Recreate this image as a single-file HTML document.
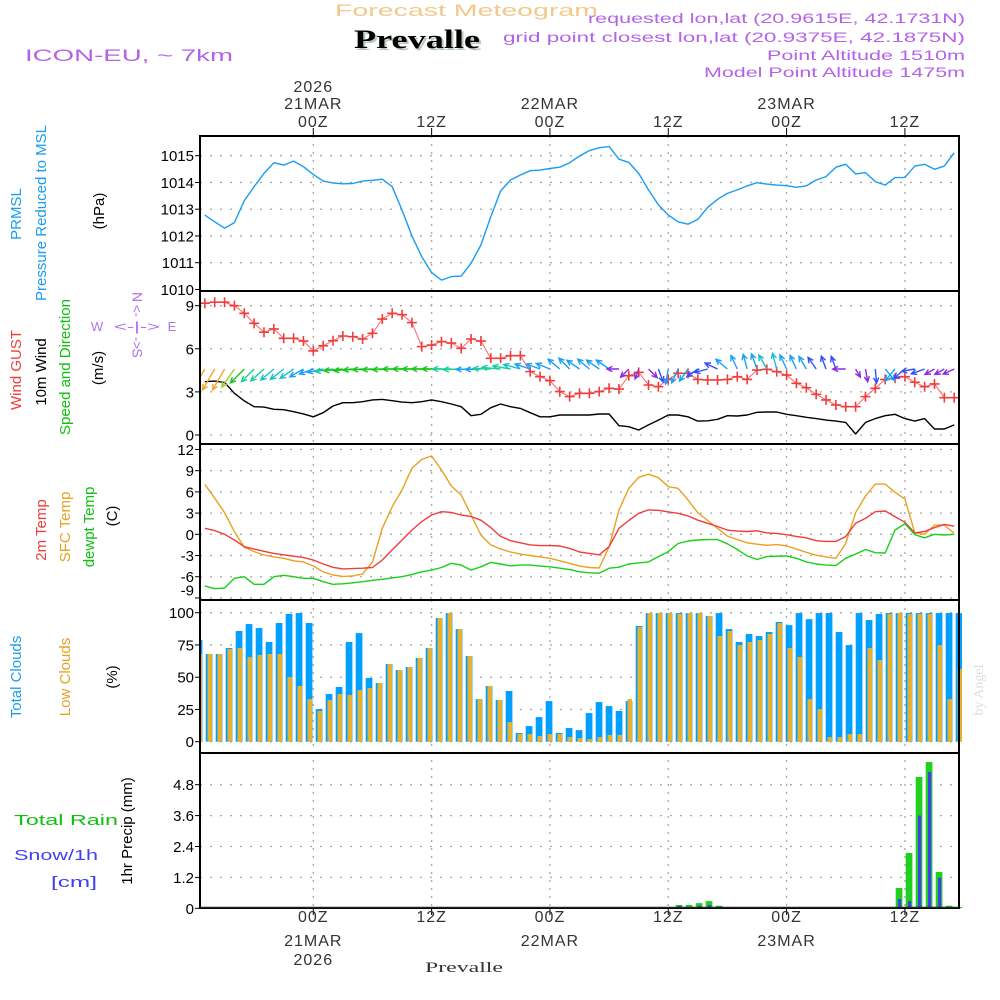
<!DOCTYPE html>
<html><head><meta charset="utf-8"><title>Forecast Meteogram Prevalle</title>
<style>
html,body{margin:0;padding:0;background:#fff;}
svg{display:block;font-family:"Liberation Sans",sans-serif;}
</style></head>
<body>
<svg id="chart" width="1000" height="1000" viewBox="0 0 1000 1000" xmlns="http://www.w3.org/2000/svg">
<defs><clipPath id="plotclip"><rect x="200" y="130" width="762" height="790"/></clipPath></defs>
<rect width="1000" height="1000" fill="#fff"/>
<!-- header -->
<text x="335" y="16" font-size="17" fill="#f2c98a" textLength="263" lengthAdjust="spacingAndGlyphs">Forecast Meteogram</text>
<text x="356" y="50" font-size="26" font-weight="bold" font-family="Liberation Serif,serif" fill="#b8c8b8" textLength="126" lengthAdjust="spacingAndGlyphs">Prevalle</text>
<text x="354" y="48" font-size="26" font-weight="bold" font-family="Liberation Serif,serif" fill="#000" textLength="126" lengthAdjust="spacingAndGlyphs">Prevalle</text>
<text x="25" y="61" font-size="17" fill="#b462e8" textLength="208" lengthAdjust="spacingAndGlyphs">ICON-EU, ~ 7km</text>
<text x="588" y="23" font-size="14" fill="#b462e8" textLength="377" lengthAdjust="spacingAndGlyphs">requested lon,lat (20.9615E, 42.1731N)</text>
<text x="503" y="42" font-size="14" fill="#b462e8" textLength="462" lengthAdjust="spacingAndGlyphs">grid point closest lon,lat (20.9375E, 42.1875N)</text>
<text x="767" y="60" font-size="14" fill="#b462e8" textLength="198" lengthAdjust="spacingAndGlyphs">Point Altitude 1510m</text>
<text x="704" y="77" font-size="14" fill="#b462e8" textLength="261" lengthAdjust="spacingAndGlyphs">Model Point Altitude 1475m</text>
<text x="425" y="972" font-size="15" font-family="Liberation Serif,serif" fill="#333" textLength="78" lengthAdjust="spacingAndGlyphs">Prevalle</text>
<text transform="translate(983,690) rotate(-90)" text-anchor="middle" font-size="14" font-family="Liberation Serif,serif" fill="#ddd">by Angel</text>
<!-- left labels -->
<g font-size="15">
<text transform="translate(17,214) rotate(-90)" text-anchor="middle" dominant-baseline="middle" fill="#1a9cf0">PRMSL</text>
<text transform="translate(42,213) rotate(-90)" text-anchor="middle" dominant-baseline="middle" fill="#1a9cf0">Pressure Reduced to MSL</text>
<text transform="translate(100,211) rotate(-90)" text-anchor="middle" dominant-baseline="middle" fill="#000">(hPa)</text>
</g>
<g font-size="15">
<text transform="translate(17,370) rotate(-90)" text-anchor="middle" dominant-baseline="middle" fill="#f03c3c">Wind GUST</text>
<text transform="translate(42,372) rotate(-90)" text-anchor="middle" dominant-baseline="middle" fill="#000">10m Wind</text>
<text transform="translate(66,367) rotate(-90)" text-anchor="middle" dominant-baseline="middle" fill="#10c010">Speed and Direction</text>
<text transform="translate(99,368) rotate(-90)" text-anchor="middle" dominant-baseline="middle" fill="#000">(m/s)</text>
</g>
<g fill="#b070e8" font-size="13">
<text x="97" y="331" text-anchor="middle">W</text>
<text x="172" y="331" text-anchor="middle">E</text>
<text x="137" y="331" text-anchor="middle" textLength="46" lengthAdjust="spacingAndGlyphs">&lt;-|-&gt;</text>
<text transform="translate(136,297) rotate(90)" text-anchor="middle" dominant-baseline="middle" font-size="14">N</text>
<text transform="translate(136,311) rotate(90)" text-anchor="middle" dominant-baseline="middle">&lt;-</text>
<text transform="translate(136,343) rotate(90)" text-anchor="middle" dominant-baseline="middle">-&gt;</text>
<text transform="translate(136,353) rotate(90)" text-anchor="middle" dominant-baseline="middle" font-size="14">S</text>
</g>
<g font-size="15">
<text transform="translate(42,530) rotate(-90)" text-anchor="middle" dominant-baseline="middle" fill="#f03c3c">2m Temp</text>
<text transform="translate(66,527) rotate(-90)" text-anchor="middle" dominant-baseline="middle" fill="#eaa020">SFC Temp</text>
<text transform="translate(90,527) rotate(-90)" text-anchor="middle" dominant-baseline="middle" fill="#10c010">dewpt Temp</text>
<text transform="translate(113,516) rotate(-90)" text-anchor="middle" dominant-baseline="middle" fill="#000">(C)</text>
</g>
<g font-size="15">
<text transform="translate(17,677) rotate(-90)" text-anchor="middle" dominant-baseline="middle" fill="#1a9cf0">Total Clouds</text>
<text transform="translate(66,677) rotate(-90)" text-anchor="middle" dominant-baseline="middle" fill="#eaa020">Low Clouds</text>
<text transform="translate(113,677) rotate(-90)" text-anchor="middle" dominant-baseline="middle" fill="#000">(%)</text>
</g>
<g font-size="15">
<text x="14" y="825" fill="#10c010" textLength="104" lengthAdjust="spacingAndGlyphs">Total  Rain</text>
<text x="14" y="860" fill="#4040f0" textLength="84" lengthAdjust="spacingAndGlyphs">Snow/1h</text>
<text x="51" y="887" fill="#4040f0" textLength="46" lengthAdjust="spacingAndGlyphs">[cm]</text>
<text transform="translate(128,831) rotate(-90)" text-anchor="middle" dominant-baseline="middle" fill="#000">1hr Precip (mm)</text>
</g>
<g id="grid"></g>
<g id="marks" clip-path="url(#plotclip)"></g>
<g id="frames"></g>
<g id="axes"></g>
</svg>
<script>
// ---- data (hourly, k=0..76, hour = k-11 relative to 21MAR 00Z) ----
const pressure=[1012.78,1012.53,1012.29,1012.5,1013.32,1013.84,1014.34,1014.74,1014.65,1014.8,1014.59,1014.3,1014.05,1013.98,1013.95,1013.96,1014.05,1014.08,1014.12,1013.84,1012.97,1012.0,1011.22,1010.63,1010.35,1010.48,1010.5,1010.98,1011.66,1012.72,1013.68,1014.09,1014.28,1014.44,1014.46,1014.52,1014.57,1014.74,1014.99,1015.19,1015.3,1015.34,1014.87,1014.75,1014.34,1013.72,1013.16,1012.78,1012.53,1012.44,1012.62,1013.07,1013.37,1013.59,1013.72,1013.87,1013.99,1013.94,1013.9,1013.88,1013.82,1013.87,1014.09,1014.22,1014.57,1014.68,1014.32,1014.37,1014.03,1013.9,1014.18,1014.19,1014.61,1014.68,1014.49,1014.61,1015.11];
const gust=[9.17,9.24,9.24,9.0,8.47,7.77,7.15,7.38,6.73,6.73,6.54,5.85,6.21,6.56,6.89,6.84,6.68,7.08,8.07,8.47,8.37,7.82,6.15,6.26,6.5,6.4,6.03,6.68,6.54,5.34,5.34,5.52,5.52,4.41,4.06,3.78,3.02,2.67,2.9,2.9,3.02,3.25,3.2,4.13,4.36,3.48,3.36,3.87,4.29,4.29,3.87,3.83,3.83,3.87,4.06,3.87,4.52,4.57,4.41,4.17,3.6,3.29,2.83,2.44,2.09,1.97,1.97,2.67,3.25,3.87,3.95,4.06,3.67,3.36,3.55,2.6,2.6];
const windSpeed=[3.71,3.75,3.66,2.9,2.37,1.97,1.94,1.79,1.76,1.62,1.47,1.27,1.55,2.02,2.25,2.25,2.32,2.44,2.48,2.39,2.29,2.25,2.32,2.44,2.32,2.16,1.97,1.34,1.44,1.9,2.16,1.97,1.85,1.55,1.27,1.27,1.39,1.39,1.39,1.39,1.46,1.46,0.65,0.58,0.35,0.7,1.04,1.39,1.39,1.27,0.97,0.99,1.09,1.34,1.32,1.39,1.58,1.6,1.6,1.44,1.34,1.23,1.14,1.04,0.97,0.88,0.07,0.88,1.14,1.34,1.44,1.14,0.97,1.14,0.42,0.42,0.7];
const windDir=[30,30,30,35,45,45,48,50,52,55,60,70,78,82,85,85,87,88,88,88,90,90,90,90,90,90,88,88,88,92,95,100,105,108,110,112,130,135,125,130,125,125,90,45,20,315,340,10,25,35,55,75,115,130,155,165,160,150,165,155,155,150,145,160,160,90,330,350,355,320,40,50,80,70,60,60,65];
const temp2m=[0.85,0.52,0,-0.8,-1.75,-2.1,-2.4,-2.7,-2.9,-3.1,-3.3,-3.64,-4.2,-4.67,-4.9,-4.85,-4.8,-4.7,-3.64,-2.2,-0.8,0.6,1.8,2.73,3.2,3.1,2.73,2.5,2.0,0.95,-0.3,-0.9,-1.2,-1.5,-1.6,-1.6,-1.65,-2.0,-2.5,-2.7,-2.9,-1.75,0.85,1.95,2.97,3.45,3.4,3.17,2.97,2.6,2.0,1.56,1.1,0.6,0.45,0.4,0.5,0.2,0.13,-0.05,-0.3,-0.5,-0.9,-1.0,-1.0,-0.33,1.56,2.25,3.2,3.3,2.5,1.7,0.2,0.4,0.95,1.4,1.15];
const tempSfc=[7.07,5.1,3.06,0.37,-1.84,-2.45,-2.93,-3.2,-3.4,-3.75,-3.9,-4.48,-5.3,-5.76,-5.95,-5.9,-5.6,-3.9,0.85,3.9,6.27,9.33,10.6,11.07,9.1,6.83,5.56,2.73,-0.1,-1.5,-2.1,-2.5,-2.8,-3.0,-3.2,-3.4,-3.75,-4.1,-4.5,-4.7,-4.76,-1.75,3.45,6.5,8.06,8.5,8.0,6.73,6.5,4.85,3.06,1.95,0.85,-0.25,-0.75,-1.2,-1.4,-1.55,-1.45,-1.65,-2.1,-2.55,-2.95,-3.2,-3.4,-1.3,3.06,5.4,7.1,7.1,5.94,5.0,0.2,0,1.3,1.3,0.13];
const dewpt=[-7.3,-7.7,-7.6,-6.23,-6.0,-7.07,-7.07,-6.0,-5.8,-6.0,-6.23,-6.23,-6.7,-7.07,-7.0,-6.86,-6.7,-6.5,-6.36,-6.17,-6.0,-5.7,-5.3,-5.06,-4.7,-4.1,-4.35,-5.06,-4.6,-3.98,-4.2,-4.45,-4.35,-4.35,-4.5,-4.6,-4.8,-5.0,-5.3,-5.44,-5.5,-4.8,-4.65,-4.2,-4.05,-3.9,-3.15,-2.45,-1.3,-0.95,-0.8,-0.75,-0.75,-1.35,-2.15,-3.05,-3.55,-3.15,-3.1,-3.05,-3.4,-3.9,-4.2,-4.35,-4.4,-3.4,-2.8,-2.15,-2.6,-2.65,0.6,1.5,-0.05,-0.5,0,-0.1,0];
// ---- hourly bars j=0..76 ----
const totalClouds=[78.8,68,68,72.6,85.8,91.2,88.1,77.3,92,99,99.7,92,25.3,37,42.4,77.3,84.2,49.4,45.5,60.2,55.6,57.9,64.9,72.6,95.9,99.7,87.3,66.4,33,43.2,32.3,39.3,6.7,12.1,19.1,31.5,6.7,10.6,9,22.2,30.7,27.6,23.8,31.5,89.7,99.7,99.7,99.7,99.7,99.7,99.7,97.4,99.7,87.3,77.3,83.5,81.9,85,92.8,90.4,99.7,95,99.7,99.7,85,74.9,99.7,94.3,99,99.7,99.7,99.7,99.7,99.7,99.7,99.7,99.7];
const lowClouds=[68,68,68,71.8,72.6,65.6,67.2,68,68,50.1,43.2,33,23.8,32.3,37,36.2,40,41.6,45.5,60.2,55.6,57.9,64.9,72.6,95.9,99.7,87.3,66.4,33,43.2,32.3,15.2,5.9,5.9,4.4,5.9,5.9,3.6,2.8,2.1,3.6,5.2,5.2,33,88.9,99.7,99.7,99.7,99,99.7,99.7,97.4,81.9,85.8,74.9,77.3,78.8,83.5,92,72.6,65.6,33,25.3,3.6,3.6,5.9,5.9,72.6,63.3,99,99.7,99,99,99,74.9,33,56.3];
const totalPrecip=[0,0,0,0,0,0,0,0,0,0,0,0,0,0,0,0,0,0,0,0,0,0,0,0,0,0,0,0,0,0,0,0,0,0,0,0,0,0,0,0,0,0,0,0,0,0,0,0,0.13,0.13,0.2,0.28,0.1,0.02,0,0,0,0,0,0,0,0,0,0,0,0,0,0,0,0,0.79,2.15,5.1,5.68,1.41,0.1,0.05];
const snow=[0,0,0,0,0,0,0,0,0,0,0,0,0,0,0,0,0,0,0,0,0,0,0,0,0,0,0,0,0,0,0,0,0,0,0,0,0,0,0,0,0,0,0,0,0,0,0,0,0.1,0.02,0.1,0.13,0.03,0.02,0,0,0,0,0,0,0,0,0,0,0,0,0,0,0,0,0.36,0.28,3.6,5.29,1.19,0.03,0];
// ---- tick labels ----
const presTicks=[1010,1011,1012,1013,1014,1015];
const windTicks=[0,3,6,9];
const tempTicks=[12,9,6,3,0,-3,-6,-9];
const cloudTicks=[0,25,50,75,100];
const precTicks=[0,1.2,2.4,3.6,4.8];
const timeHours=[0,12,24,36,48,60];
const timeLabels=["00Z","12Z","00Z","12Z","00Z","12Z"];
const dateLabels=["21MAR","","22MAR","","23MAR",""];

// ---- scales ----
const xP=h=>313.3+9.86*h;
const xK=k=>xP(k-11);
const xB=j=>199+10*j;
const yPres=v=>155.7+(1015-v)*26.75;
const yWind=v=>435-v*14.37;
const yTemp=v=>534.3-v*7.07;
const yCloud=v=>741.7-v*1.29;
const yPrec=v=>908.3-v*25.75;

const NS="http://www.w3.org/2000/svg";
function mk(tag,attrs,parent){const e=document.createElementNS(NS,tag);for(const a in attrs)e.setAttribute(a,attrs[a]);parent.appendChild(e);return e;}
const grid=document.getElementById('grid'),marks=document.getElementById('marks'),frames=document.getElementById('frames'),axes=document.getElementById('axes');
const L=200,R=959;
const panels=[[136,291],[291,444],[444,600],[600,753],[753,908]];

function hgrid(vals,fy,name){vals.forEach(v=>{const y=fy(v);const l=mk('line',{x1:L,x2:R,y1:y,y2:y,stroke:'#aaa','stroke-width':1.3,'stroke-dasharray':'2 8'},grid);

});}
hgrid([1011,1012,1013,1014,1015],yPres,'pressure-gridline');
hgrid([0,3,6,9],yWind,'wind-gridline');
hgrid(tempTicks,yTemp,'temp-gridline');
hgrid([0,25,50,75,100],yCloud,'cloud-gridline');
hgrid([1.2,2.4,3.6,4.8],yPrec,'precip-gridline');
timeHours.forEach(h=>{const x=xP(h);const l=mk('line',{x1:x,x2:x,y1:136,y2:908,stroke:'#aaa','stroke-width':1.3,'stroke-dasharray':'2 6'},grid);


const t1=mk('line',{x1:x,x2:x,y1:128,y2:136,stroke:'#000','stroke-width':1},axes);


const t2=mk('line',{x1:x,x2:x,y1:908,y2:915,stroke:'#000','stroke-width':1},axes);

});

panels.forEach(p=>{const r=mk('rect',{x:L,y:p[0],width:R-L,height:p[1]-p[0],fill:'none',stroke:'#000','stroke-width':2},frames);

});

function line(vals,fy,color,name,w){const d=vals.map((v,k)=>(k?'L':'M')+xK(k).toFixed(1)+','+fy(v).toFixed(1)).join('');
const p=mk('path',{d:d,fill:'none',stroke:color,'stroke-width':w||1.4,'stroke-linejoin':'round'},marks);

}

line(pressure,yPres,'#1a9cf0','pressure-line');
line(windSpeed,yWind,'#000','wind-speed-line');
line(gust,yWind,'#ff7070','wind-gust-line',1.1);
gust.forEach((v,k)=>{const x=xK(k),y=yWind(v);const m=mk('path',{d:`M${x-5},${y}H${x+5}M${x},${y-5}V${y+5}`,stroke:'#f03c3c','stroke-width':1.6},marks);

});

function wcol(s){if(s<0.9)return '#8a2be2';if(s<1.2)return '#3050ff';if(s<1.6)return '#1aa0f5';if(s<1.9)return '#18c0c8';if(s<2.2)return '#18d098';if(s<2.65)return '#18c818';if(s<3.3)return '#a0d030';return '#f0a830';}
windDir.forEach((d,k)=>{const s=windSpeed[k];const len=Math.min(24,9+4.5*s);const r=d*Math.PI/180;const dx=-Math.sin(r),dy=Math.cos(r);
const x0=xK(k),y0=369,x1=x0+dx*len,y1=y0+dy*len;const a=Math.atan2(dy,dx);const hl=6;
const h1x=x1-hl*Math.cos(a-0.45),h1y=y1-hl*Math.sin(a-0.45),h2x=x1-hl*Math.cos(a+0.45),h2y=y1-hl*Math.sin(a+0.45);
const p=mk('path',{d:`M${x0.toFixed(1)},${y0}L${x1.toFixed(1)},${y1.toFixed(1)}M${h1x.toFixed(1)},${h1y.toFixed(1)}L${x1.toFixed(1)},${y1.toFixed(1)}L${h2x.toFixed(1)},${h2y.toFixed(1)}`,fill:'none',stroke:wcol(s),'stroke-width':1.4},marks);

});

line(tempSfc,yTemp,'#eaa020','sfc-temp-line');
line(temp2m,yTemp,'#f03c3c','2m-temp-line');
line(dewpt,yTemp,'#18d018','dewpoint-line');

totalClouds.forEach((v,j)=>{const x=xB(j);const b=mk('rect',{x:x-3.3,y:yCloud(v),width:6.7,height:yCloud(0)-yCloud(v),fill:'#00a0ff'},marks);

});
lowClouds.forEach((v,j)=>{const x=xB(j);const b=mk('rect',{x:x-1.5,y:yCloud(v),width:4.5,height:yCloud(0)-yCloud(v),fill:'#e8b030'},marks);

});
totalPrecip.forEach((v,j)=>{if(v<=0)return;const x=xB(j);const b=mk('rect',{x:x-3.3,y:yPrec(v),width:6.7,height:yPrec(0)-yPrec(v),fill:'#20d020'},marks);

});
snow.forEach((v,j)=>{if(v<=0)return;const x=xB(j);const b=mk('rect',{x:x-1,y:yPrec(v),width:3.2,height:yPrec(0)-yPrec(v),fill:'#4040f0'},marks);

});
const zl=mk('line',{x1:L,x2:R,y1:907.5,y2:907.5,stroke:'#222','stroke-width':1.5},frames);



function ylabels(vals,fy,name,clampMin,clampMax){vals.forEach(v=>{let y=fy(v);if(clampMax!==undefined&&y>clampMax)y=clampMax;
const t=mk('text',{x:194,y:y+5.5,'text-anchor':'end','font-size':15,fill:'#000'},axes);t.textContent=String(v);


const tk=mk('line',{x1:L-5,x2:L,y1:fy(v),y2:fy(v),stroke:'#000','stroke-width':1},axes);

});}
ylabels(presTicks,yPres,'pressure-tick-label');
ylabels(windTicks,yWind,'wind-tick-label');
ylabels(tempTicks,yTemp,'temp-tick-label',undefined,590);
ylabels(cloudTicks,yCloud,'cloud-tick-label');
ylabels(precTicks,yPrec,'precip-tick-label');

function tl(x,y,s,name){const t=mk('text',{x:x,y:y,'text-anchor':'middle','font-size':16,fill:'#333','letter-spacing':'1'},axes);t.textContent=s;

}
timeHours.forEach((h,i)=>{const x=xP(h);
tl(x,127,timeLabels[i],'top-hour-label');
tl(x,922,timeLabels[i],'bottom-hour-label');
if(dateLabels[i]){tl(x,109,dateLabels[i],'top-date-label');tl(x,946,dateLabels[i],'bottom-date-label');}});
tl(xP(0),92,'2026','top-year-label');
tl(xP(0),965,'2026','bottom-year-label');
</script>
</body></html>
